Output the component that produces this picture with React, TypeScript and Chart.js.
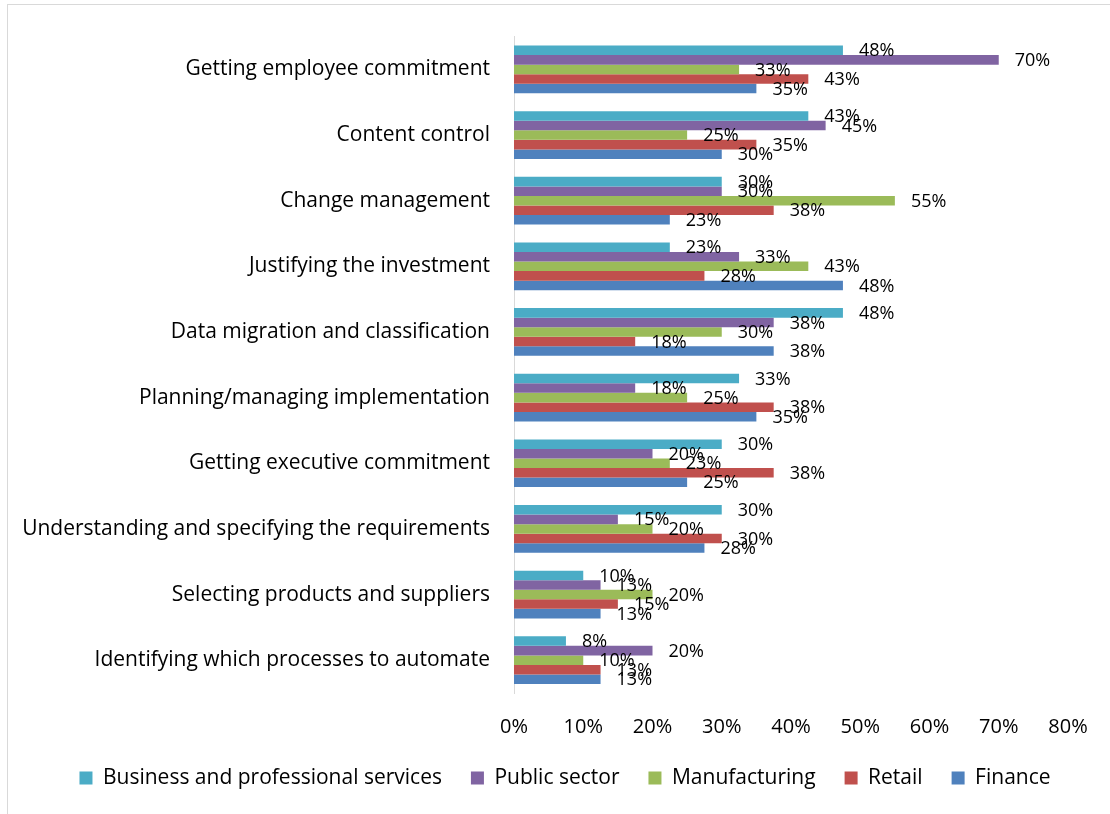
import React, { useEffect, useRef } from "react";
import { Chart, registerables } from "chart.js";

Chart.register(...registerables);

const categories = [
  "Getting employee commitment",
  "Content control",
  "Change management",
  "Justifying the investment",
  "Data migration and classification",
  "Planning/managing implementation",
  "Getting executive commitment",
  "Understanding and specifying the requirements",
  "Selecting products and suppliers",
  "Identifying which processes to automate",
];

const seriesNames = [
  "Business and professional services",
  "Public sector",
  "Manufacturing",
  "Retail",
  "Finance",
];

const businessServices = [47.5, 42.5, 30, 22.5, 47.5, 32.5, 30, 30, 10, 7.5];
const publicSector = [70, 45, 30, 32.5, 37.5, 17.5, 20, 15, 12.5, 20];
const manufacturing = [32.5, 25, 55, 42.5, 30, 25, 22.5, 20, 20, 10];
const retail = [42.5, 35, 37.5, 27.5, 17.5, 37.5, 37.5, 30, 15, 12.5];
const finance = [35, 30, 22.5, 47.5, 37.5, 35, 25, 27.5, 12.5, 12.5];

const seriesColors = ["#4BACC6", "#8064A2", "#9BBB59", "#C0504D", "#4F81BD"];

const xTicks = [0, 10, 20, 30, 40, 50, 60, 70, 80];

const FONT = "'Open Sans', Lato, sans-serif";

const dataLabelPlugin = {
  id: "dataLabels",
  afterDatasetsDraw(chart: any) {
    const ctx = chart.ctx;
    ctx.save();
    ctx.font = `18px ${FONT}`;
    ctx.fillStyle = "#000";
    ctx.textAlign = "left";
    ctx.textBaseline = "middle";
    chart.data.datasets.forEach((ds: any, di: number) => {
      const meta = chart.getDatasetMeta(di);
      meta.data.forEach((el: any, i: number) => {
        const v = ds.data[i];
        ctx.fillText(Math.round(v) + "%", el.x + 16, el.y + 1);
      });
    });
    ctx.restore();
  },
};

const legendShiftPlugin = {
  id: "legendShift",
  afterLayout(chart: any) {
    const lg = chart.legend;
    if (lg) {
      lg.left += 26;
      lg.right += 26;
    }
  },
};

export default function App() {
  const ref = useRef<HTMLCanvasElement>(null);
  useEffect(() => {
    const values = [businessServices, publicSector, manufacturing, retail, finance];
    const chart = new Chart(ref.current!, {
      type: "bar",
      data: {
        labels: categories,
        datasets: seriesNames.map((name, i) => ({
          label: name,
          data: values[i],
          backgroundColor: seriesColors[i],
          borderWidth: 0,
          categoryPercentage: 0.727,
          barPercentage: 1,
        })),
      },
      options: {
        indexAxis: "y",
        animation: false,
        responsive: false,
        layout: { padding: { left: 10, right: 42, top: 34, bottom: 15.5 } },
        scales: {
          x: {
            min: 0,
            max: 80,
            afterBuildTicks: (scale: any) => {
              scale.ticks = xTicks.map((v) => ({ value: v }));
            },
            afterFit: (scale: any) => {
              scale.height = 45.5;
            },
            grid: { display: false, drawTicks: false },
            border: { display: false },
            ticks: {
              padding: 22,
              color: "#000",
              font: { family: FONT, size: 20 },
              callback: (v: any) => v + "%",
            },
          },
          y: {
            afterFit: (scale: any) => {
              scale.width = 504;
            },
            grid: { display: false, drawTicks: false },
            border: { display: true, color: "#D9D9D9", width: 1 },
            ticks: {
              padding: 24,
              color: "#000",
              font: { family: FONT, size: 21 },
            },
          },
        },
        plugins: {
          legend: {
            position: "bottom",
            labels: {
              boxWidth: 13,
              boxHeight: 13,
              padding: 29,
              color: "#000",
              font: { family: FONT, size: 21 },
            },
          },
          tooltip: { enabled: false },
        },
      },
      plugins: [dataLabelPlugin, legendShiftPlugin],
    });
    return () => chart.destroy();
  }, []);
  return (
    <div style={{ position: "fixed", left: 0, top: 0, width: 1110, height: 814, background: "#fff" }}>
      <div
        style={{
          position: "absolute",
          left: 7,
          top: 4,
          width: 1200,
          height: 900,
          borderLeft: "1px solid #D9D9D9",
          borderTop: "1px solid #D9D9D9",
        }}
      />
      <canvas ref={ref} width={1110} height={814} style={{ position: "absolute", left: 0, top: 0, display: "block" }} />
    </div>
  );
}
